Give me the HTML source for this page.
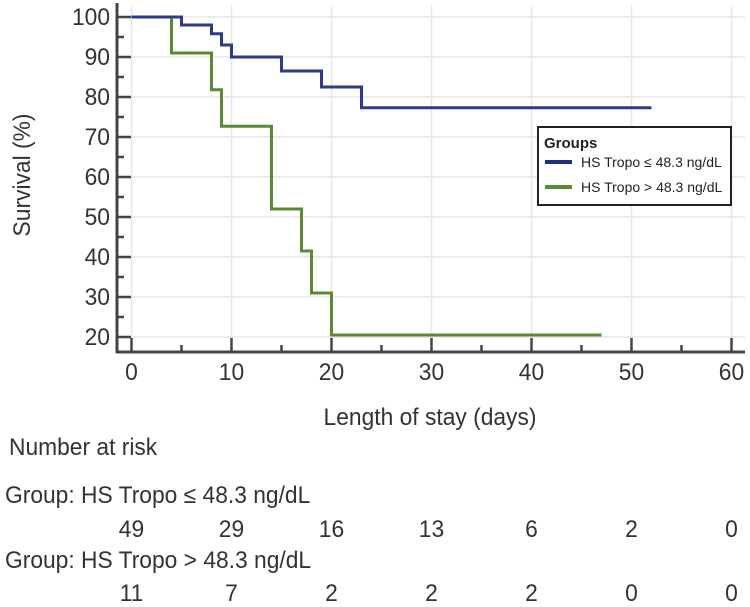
<!DOCTYPE html>
<html><head><meta charset="utf-8"><style>
body{margin:0;background:#fff;}
svg{display:block;font-family:"Liberation Sans",sans-serif;}
</style></head><body>
<svg id="c" width="750" height="607" xmlns="http://www.w3.org/2000/svg"></svg>
<script>
const xTicks=[0,10,20,30,40,50,60];
const yTicks=[20,30,40,50,60,70,80,90,100];
const blueT=[0,5,8,9,10,15,19,23,52];
const blueS=[100,98,95.8,93,90,86.5,82.5,77.3,77.3];
const greenT=[0,4,8,9,14,17,18,20,47];
const greenS=[100,91,81.8,72.7,52,41.5,31,20.5,20.5];
const riskBlue=[49,29,16,13,6,2,0];
const riskGreen=[11,7,2,2,2,0,0];
const NS="http://www.w3.org/2000/svg";
const svg=document.getElementById('c');
const X=v=>131.5+v*10;
const Y=v=>17+(100-v)*4;
const FS=24;
function el(t,a,txt){const e=document.createElementNS(NS,t);for(const k in a)e.setAttribute(k,a[k]);if(txt!==undefined)e.textContent=txt;svg.appendChild(e);return e;}
function cond(e){const w=e.getComputedTextLength();e.setAttribute('textLength',(w*0.95).toFixed(1));e.setAttribute('lengthAdjust','spacingAndGlyphs');return e;}
// grid
xTicks.forEach(v=>{const g=el('line',{x1:X(v),x2:X(v),y1:5,y2:352,stroke:'#e6e6e6','stroke-width':1.5});

});
yTicks.forEach(v=>{const g=el('line',{x1:117,x2:745,y1:Y(v),y2:Y(v),stroke:'#e6e6e6','stroke-width':1.5});

});
// axes
let a=el('line',{x1:117,x2:117,y1:3,y2:353,stroke:'#444','stroke-width':3});


a=el('line',{x1:116,x2:745,y1:352,y2:352,stroke:'#444','stroke-width':3});


yTicks.forEach(v=>{el('line',{x1:117,x2:131,y1:Y(v),y2:Y(v),stroke:'#444','stroke-width':2.5});
if(v<100)el('line',{x1:117,x2:124,y1:Y(v+5),y2:Y(v+5),stroke:'#444','stroke-width':2.5});
const t=cond(el('text',{x:110,y:Y(v)+8,'text-anchor':'end','font-size':FS,fill:'#333'},v));

});
xTicks.forEach(v=>{el('line',{x1:X(v),x2:X(v),y1:338,y2:352,stroke:'#444','stroke-width':2.5});
if(v<60)el('line',{x1:X(v+5),x2:X(v+5),y1:345,y2:352,stroke:'#444','stroke-width':2.5});
const t=cond(el('text',{x:X(v),y:380,'text-anchor':'middle','font-size':FS,fill:'#333'},v));

});
function step(T,S,c,n){let d=`M${X(T[0])},${Y(S[0])}`;for(let i=1;i<T.length;i++){d+=`H${X(T[i])}V${Y(S[i])}`;}
const p=el('path',{d:d,fill:'none',stroke:c,'stroke-width':3});

}
step(greenT,greenS,'#5a8a32','survival-line-high');
step(blueT,blueS,'#2e3a8c','survival-line-low');
let t=cond(el('text',{x:0,y:0,transform:'translate(30,175) rotate(-90)','text-anchor':'middle','font-size':FS,fill:'#333'},'Survival (%)'));


t=cond(el('text',{x:430,y:425,'text-anchor':'middle','font-size':FS,fill:'#333'},'Length of stay (days)'));


// legend
const lg=el('rect',{x:538,y:127,width:193,height:78,fill:'#fff',stroke:'#222','stroke-width':2});


t=el('text',{x:544,y:148,'font-size':15,'font-weight':'bold',fill:'#222'},'Groups');


el('line',{x1:545,x2:572,y1:162,y2:162,stroke:'#1f2f7a','stroke-width':4});
t=el('text',{x:581,y:167,'font-size':14,fill:'#222'},'HS Tropo ≤ 48.3 ng/dL');


el('line',{x1:545,x2:572,y1:187,y2:187,stroke:'#5a8a32','stroke-width':4});
t=el('text',{x:581,y:192,'font-size':14,fill:'#222'},'HS Tropo > 48.3 ng/dL');


// risk table
t=cond(el('text',{x:9,y:455,'font-size':FS,fill:'#333'},'Number at risk'));


t=cond(el('text',{x:5,y:503,'font-size':FS,fill:'#333'},'Group: HS Tropo ≤ 48.3 ng/dL'));


t=cond(el('text',{x:5,y:568,'font-size':FS,fill:'#333'},'Group: HS Tropo > 48.3 ng/dL'));


riskBlue.forEach((v,i)=>{const e=cond(el('text',{x:X(xTicks[i]),y:537,'text-anchor':'middle','font-size':FS,fill:'#333'},v));

});
riskGreen.forEach((v,i)=>{const e=cond(el('text',{x:X(xTicks[i]),y:601,'text-anchor':'middle','font-size':FS,fill:'#333'},v));

});
</script>
</body></html>
